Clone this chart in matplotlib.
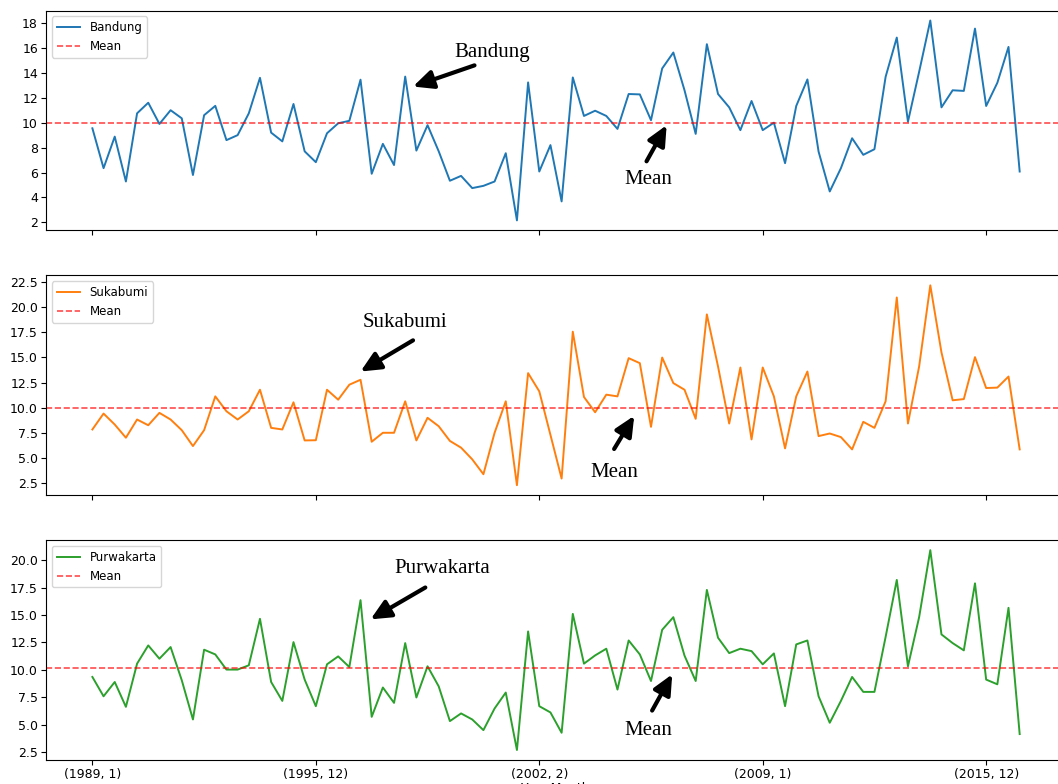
import numpy as np
import matplotlib
matplotlib.use("Agg")
import matplotlib.pyplot as plt
from matplotlib.ticker import MultipleLocator

# monthly rainfall samples per city, same time index for all three
bandung = [9.55, 6.35, 8.88, 5.28, 10.75, 11.6, 9.9, 11.0, 10.35, 5.8,
           10.6, 11.35, 8.6, 9.0, 10.75, 13.6, 9.2, 8.5, 11.5, 7.7,
           6.83, 9.15, 9.95, 10.15, 13.45, 5.9, 8.3, 6.6, 13.7, 7.76,
           9.8, 7.7, 5.34, 5.73, 4.75, 4.93, 5.28, 7.55, 2.16, 13.23,
           6.08, 8.2, 3.68, 13.63, 10.54, 10.96, 10.54, 9.5, 12.3, 12.27,
           10.2, 14.35, 15.63, 12.6, 9.1, 16.3, 12.3, 11.23, 9.4, 11.74,
           9.4, 10.0, 6.75, 11.34, 13.47, 7.68, 4.48, 6.35, 8.75, 7.42,
           7.87, 13.68, 16.83, 10.08, 14.08, 18.2, 11.23, 12.6, 12.55, 17.55,
           11.34, 13.2, 16.08, 6.08]

sukabumi = [7.84, 9.42, 8.33, 7.02, 8.83, 8.26, 9.49, 8.83, 7.77, 6.19,
            7.77, 11.13, 9.65, 8.83, 9.65, 11.79, 8.0, 7.84, 10.54, 6.75,
            6.77, 11.79, 10.8, 12.29, 12.78, 6.62, 7.51, 7.51, 10.64, 6.75,
            9.0, 8.16, 6.7, 6.03, 4.87, 3.39, 7.51, 10.64, 2.3, 13.44,
            11.63, 7.3, 2.96, 17.56, 11.07, 9.55, 11.3, 11.13, 14.93, 14.43,
            8.1, 14.99, 12.45, 11.79, 8.9, 19.28, 14.1, 8.43, 14.0, 6.85,
            14.0, 11.13, 5.96, 11.13, 13.6, 7.18, 7.44, 7.08, 5.86, 8.6,
            8.0, 10.64, 20.96, 8.43, 14.1, 22.17, 15.5, 10.74, 10.86, 15.03,
            11.96, 12.0, 13.1, 5.86]

purwakarta = [9.36, 7.6, 8.9, 6.64, 10.57, 12.23, 11.02, 12.08, 9.06, 5.49,
              11.84, 11.41, 10.03, 10.03, 10.42, 14.65, 8.9, 7.18, 12.53, 9.12,
              6.7, 10.51, 11.23, 10.26, 16.35, 5.73, 8.4, 7.0, 12.44, 7.49,
              10.33, 8.5, 5.34, 6.04, 5.49, 4.52, 6.49, 7.94, 2.71, 13.5,
              6.7, 6.13, 4.28, 15.1, 10.57, 11.32, 11.93, 8.21, 12.68, 11.41,
              8.99, 13.65, 14.8, 11.3, 8.99, 17.28, 12.93, 11.53, 11.93, 11.71,
              10.51, 11.5, 6.7, 12.32, 12.68, 7.6, 5.19, 7.18, 9.36, 8.0,
              8.0, 13.0, 18.19, 10.33, 14.8, 20.9, 13.23, 12.44, 11.78, 17.88,
              9.12, 8.69, 15.65, 4.16]

tick_pos = [0, 20, 40, 60, 80]
tick_labels = ['(1989, 1)', '(1995, 12)', '(2002, 2)', '(2009, 1)', '(2015, 12)']

cities = ['Bandung', 'Sukabumi', 'Purwakarta']
series = [bandung, sukabumi, purwakarta]
colors = ['tab:blue', 'tab:orange', 'tab:green']
y_steps = [2, 2.5, 2.5]

# callouts in data coords: (label pos, arrow tail, arrow tip)
name_notes = [((35.8, 15.6), (34.2, 14.6), (28.7, 12.9)),
              ((28.0, 18.5), (28.7, 16.7), (24.0, 13.6)),
              ((31.3, 19.2), (29.8, 17.5), (24.9, 14.6))]
mean_notes = [((49.8, 5.4), (49.6, 6.9), (51.4, 9.8)),
              ((46.7, 3.6), (46.7, 5.9), (48.5, 9.2)),
              ((49.8, 4.5), (50.1, 6.3), (51.9, 9.6))]

plt.rcParams['font.family'] = 'DejaVu Sans'
fig, axes = plt.subplots(3, 1, sharex=True, figsize=(10.58, 7.84), dpi=100)
fig.subplots_adjust(left=0.0435, right=1.0076, top=0.9866, bottom=0.0306, hspace=0.2045)

x = np.arange(len(bandung))
arrow = dict(arrowstyle='-|>,head_length=0.6,head_width=0.28', color='black', lw=3,
             mutation_scale=20, shrinkA=0, shrinkB=0)
serif = dict(family='Liberation Serif', fontsize=15, ha='center', va='center')

for ax, name, vals, c, step, nn, mn in zip(axes, cities, series, colors, y_steps, name_notes, mean_notes):
    ax.plot(x, vals, color=c, lw=1.4, label=name)
    ax.axhline(np.mean(vals), color='red', ls='--', lw=1.2, alpha=0.7, label='Mean')
    ax.legend(loc='upper left', fontsize=8.5)
    ax.yaxis.set_major_locator(MultipleLocator(step))
    ax.tick_params(labelsize=9, length=3.3, pad=2.5)

    ax.text(*nn[0], name, **serif)
    ax.annotate('', xy=nn[2], xytext=nn[1], arrowprops=arrow)
    ax.text(*mn[0], 'Mean', **serif)
    ax.annotate('', xy=mn[2], xytext=mn[1], arrowprops=arrow)

axes[-1].set_xticks(tick_pos)
axes[-1].set_xticklabels(tick_labels)
axes[-1].set_xlabel('Year,Month', fontsize=9, labelpad=1)

fig.savefig('out.png', dpi=100)
